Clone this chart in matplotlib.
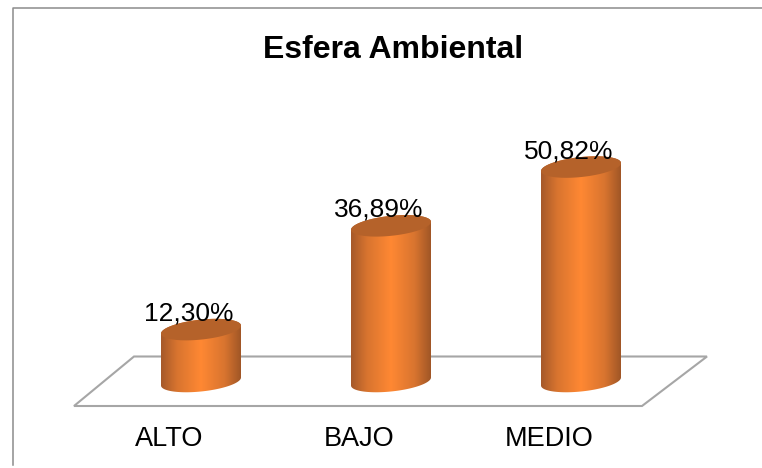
import numpy as np
import matplotlib
matplotlib.use("Agg")
import matplotlib.pyplot as plt
from matplotlib.colors import LinearSegmentedColormap
from matplotlib.lines import Line2D
from matplotlib.patches import PathPatch, Polygon
from matplotlib.path import Path
from matplotlib.transforms import ScaledTranslation

title = "Esfera Ambiental"
categories = ["ALTO", "BAJO", "MEDIO"]
values = [12.30, 36.89, 50.82]
value_labels = ["12,30%", "36,89%", "50,82%"]

W, H = 762, 468
plt.rcParams["font.family"] = ["Liberation Sans", "DejaVu Sans"]
fig = plt.figure(figsize=(W / 100, H / 100), dpi=100)

AX_BOTTOM = 415
ax = fig.add_axes([0, 1 - AX_BOTTOM / H, 1, AX_BOTTOM / H])
ax.set_facecolor("none")

# scales: pixel layout of the plot -> data
PX_PER_CAT, X0 = 190.0, 201.0
PX_PER_VAL, Y0 = 4.22, 381.5
xlim = (-X0 / PX_PER_CAT, (W - X0) / PX_PER_CAT)
ylim = ((Y0 - AX_BOTTOM) / PX_PER_VAL, Y0 / PX_PER_VAL)

# frame and floor in figure pixels
px = lambda x, y: (x / W, 1 - y / H)
GREY = "#a6a6a6"
fig.add_artist(Line2D([px(12.5, 0)[0], px(12.5, 0)[0], 1],
                      [px(0, 465)[1], px(0, 8)[1], px(0, 8)[1]],
                      color="#8c8c8c", lw=1.1, transform=fig.transFigure, zorder=0))
floor = [px(74, 406), px(134, 356.5), px(707, 356.5), px(642, 406)]
fig.add_artist(Polygon(floor, closed=True, fc="white", ec=GREY, lw=1.5,
                       transform=fig.transFigure, zorder=0))

cmap = LinearSegmentedColormap.from_list(
    "cyl", [(0, "#a5592a"), (0.2, "#d8742f"), (0.5, "#ff8833"),
            (0.8, "#d8742f"), (1, "#a05626")])
side_grad = np.linspace(0, 1, 256).reshape(1, -1)

a = 40.0 / PX_PER_CAT            # half width, categories
b = 10.0 / PX_PER_VAL            # half height of ellipse, value units
k = 4.0 / PX_PER_VAL             # tilt rise at the right edge, value units


def ring(xc, yc, t):
    return xc + a * np.cos(t), yc + b * np.sin(t) + k * np.cos(t)


for i, v in enumerate(values):
    tb = np.linspace(np.pi, 2 * np.pi, 60)
    tt = np.linspace(0, np.pi, 60)
    xb, yb = ring(i, 0, tb)
    xt, yt = ring(i, v, tt)
    verts = np.column_stack([np.r_[xb, xt, xb[0]], np.r_[yb, yt, yb[0]]])
    body = PathPatch(Path(verts), fc="none", ec="none", transform=ax.transData)
    ax.add_patch(body)
    im = ax.imshow(side_grad, cmap=cmap, aspect="auto", zorder=2,
                   extent=(i - a, i + a, -b - k, v + b + k))
    im.set_clip_path(body)
    xc, yc = ring(i, v, np.linspace(0, 2 * np.pi, 120))
    ax.fill(xc, yc, color="#b5622a", lw=0, zorder=3)
    ax.text(i - 12 / PX_PER_CAT, v + 9 / PX_PER_VAL, value_labels[i], ha="center",
            va="baseline", fontsize=19, color="black", zorder=4)

ax.set_xlim(xlim)
ax.set_ylim(ylim)
ax.set_yticks([])
ax.set_xticks(range(len(categories)), categories)
ax.tick_params(axis="x", length=0, labelsize=19.5, pad=8)
shift = ScaledTranslation(-32 / 100, 0, fig.dpi_scale_trans)
for lab in ax.get_xticklabels():
    lab.set_transform(lab.get_transform() + shift)
    lab.set_color("black")
for s in ax.spines.values():
    s.set_visible(False)
ax.patch.set_visible(False)

fig.text(393 / W, 1 - 50 / H, title, ha="center", va="center",
         fontsize=23, fontweight="bold", color="black")
fig.savefig("out.png", dpi=100, facecolor="white")
